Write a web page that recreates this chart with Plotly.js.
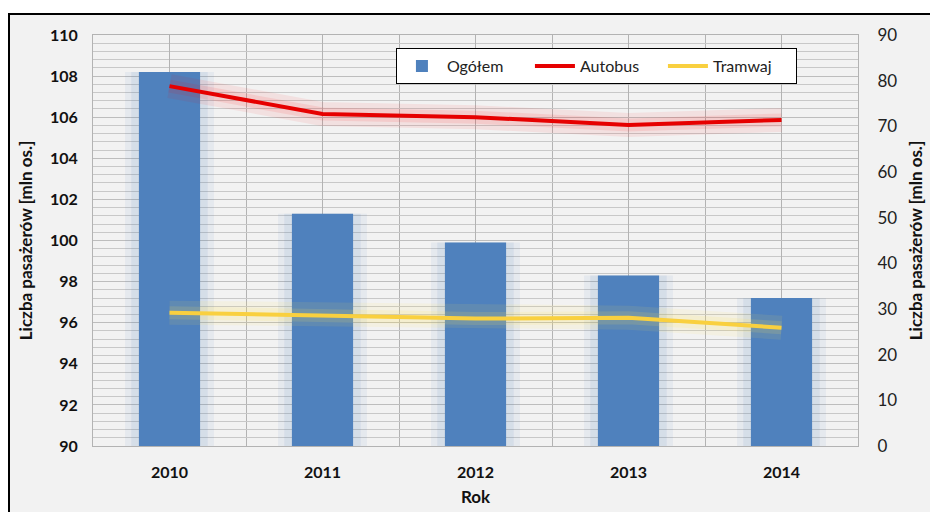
<!DOCTYPE html>
<html>
<head>
<meta charset="utf-8">
<script src="https://cdn.plot.ly/plotly-3.0.1.min.js"></script>
<style>html,body{margin:0;padding:0;background:#fff;}#chart{width:930px;height:512px;}</style>
</head>
<body>
<div id="chart"></div>
<script>
var years = [2010, 2011, 2012, 2013, 2014];
var yearLabels = ["2010", "2011", "2012", "2013", "2014"];
var ogolem = [108.2, 101.3, 99.9, 98.3, 97.2];
var autobus = [78.8, 72.7, 72.0, 70.3, 71.4];
var tramwaj = [29.2, 28.5, 27.9, 28.1, 25.9];
var leftTicks = [90, 92, 94, 96, 98, 100, 102, 104, 106, 108, 110];
var rightTicks = [0, 10, 20, 30, 40, 50, 60, 70, 80, 90];

var FONT = "Lato, 'Open Sans', sans-serif";

var traces = [
  {type:'bar', x:years, y:ogolem.map(function(v){return v-90;}), base:90, width:0.58,
   marker:{color:'rgba(79,129,189,0.08)', line:{width:0}}, showlegend:false, hoverinfo:'skip'},
  {type:'bar', x:years, y:ogolem.map(function(v){return v-90;}), base:90, width:0.5,
   marker:{color:'rgba(79,129,189,0.10)', line:{width:0}}, showlegend:false, hoverinfo:'skip'},
  {type:'bar', name:'Ogółem', x:years, y:ogolem.map(function(v){return v-90;}), base:90, width:0.4,
   marker:{color:'#4f81bd', line:{width:0}}},
  {type:'scatter', mode:'lines', x:years, y:autobus, yaxis:'y2', showlegend:false, hoverinfo:'skip',
   line:{color:'rgba(255,0,0,0.07)', width:24}},
  {type:'scatter', mode:'lines', x:years, y:autobus, yaxis:'y2', showlegend:false, hoverinfo:'skip',
   line:{color:'rgba(255,0,0,0.09)', width:13}},
  {type:'scatter', mode:'lines', x:years, y:tramwaj, yaxis:'y2', showlegend:false, hoverinfo:'skip',
   line:{color:'rgba(255,225,90,0.10)', width:24}},
  {type:'scatter', mode:'lines', x:years, y:tramwaj, yaxis:'y2', showlegend:false, hoverinfo:'skip',
   line:{color:'rgba(255,225,90,0.14)', width:13}},
  {type:'scatter', mode:'lines', name:'Autobus', x:years, y:autobus, yaxis:'y2',
   line:{color:'#e60000', width:4}},
  {type:'scatter', mode:'lines', name:'Tramwaj', x:years, y:tramwaj, yaxis:'y2',
   line:{color:'#f9d03f', width:4}}
];

var layout = {
  width:930, height:512,
  margin:{l:93, r:72, t:35, b:66, autoexpand:false},
  paper_bgcolor:'#ffffff',
  plot_bgcolor:'#f2f2f2',
  barmode:'overlay',
  font:{family:FONT, color:'#000'},
  xaxis:{
    type:'linear', range:[2009.5, 2014.5], automargin:false,
    tickvals:years, ticktext:yearLabels,
    showgrid:true, gridcolor:'#b3b3b3', gridwidth:1,
    minor:{dtick:0.5, tick0:2009.5, showgrid:true, gridcolor:'#b3b3b3', gridwidth:1},
    zeroline:false, showline:true, linecolor:'#b3b3b3', mirror:true,
    ticks:'outside', ticklen:12, tickcolor:'rgba(0,0,0,0)',
    tickfont:{family:FONT, size:16, color:'#111', weight:'bold'},
    title:{text:'<b>Rok</b>', font:{family:FONT, size:17, color:'#111'}, standoff:10}
  },
  yaxis:{
    range:[90,110], tickvals:leftTicks, automargin:false,
    showgrid:true, gridcolor:'#bdbdbd', gridwidth:1,
    minor:{dtick:0.4, tick0:90, showgrid:true, gridcolor:'#c8c8c8', gridwidth:1},
    zeroline:false, showline:true, linecolor:'#b3b3b3', mirror:true,
    ticks:'outside', ticklen:11, tickcolor:'rgba(0,0,0,0)',
    tickfont:{family:FONT, size:16, color:'#111', weight:'bold'},
    title:{text:'<b>Liczba pasażerów [mln os.]</b>', font:{family:FONT, size:17, color:'#111'}, standoff:13}
  },
  yaxis2:{
    overlaying:'y', side:'right', range:[0,90], tickvals:rightTicks, automargin:false,
    showgrid:false, zeroline:false, showline:false,
    ticks:'outside', ticklen:15, tickcolor:'rgba(0,0,0,0)',
    tickfont:{family:FONT, size:17, color:'#222'},
    title:{text:'<b>Liczba pasażerów [mln os.]</b>', font:{family:FONT, size:17, color:'#111'}, standoff:13}
  },
  legend:{
    orientation:'h', x:0.396, y:0.968, xanchor:'left', yanchor:'top',
    bgcolor:'#ffffff', bordercolor:'#000', borderwidth:1,
    font:{family:FONT, size:16, color:'#222'},
    itemwidth:40, traceorder:'normal', entrywidth:78
  },
  shapes:[
    {type:'rect', xref:'paper', yref:'paper', x0:-0.1098, x1:1.3, y0:-0.3, y1:1.051,
     line:{color:'#000', width:2}, fillcolor:'#f2f2f2', layer:'below'}
  ]
};

Plotly.newPlot('chart', traces, layout, {displayModeBar:false, staticPlot:true});
</script>
</body>
</html>
